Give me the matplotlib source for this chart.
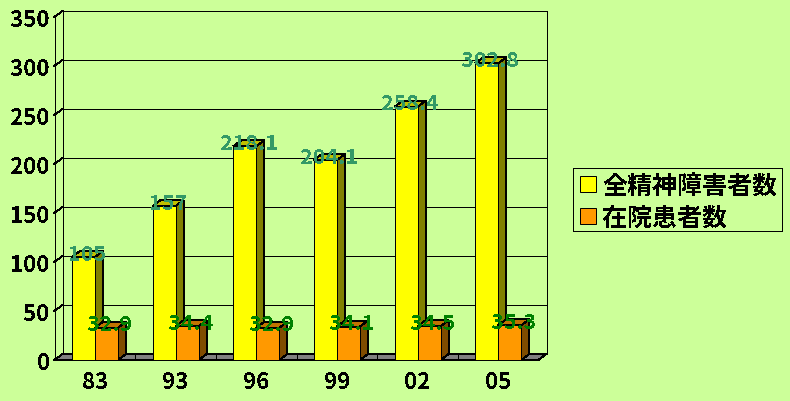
import matplotlib
matplotlib.use("Agg")
import matplotlib.pyplot as plt
from matplotlib.patches import Polygon, Patch, Rectangle

categories = ['83', '93', '96', '99', '02', '05']
all_patients = [105, 157, 218.1, 204.1, 258.4, 302.8]
inpatients = [32.9, 34.4, 32.9, 34.1, 34.5, 35.3]
all_labels = ['105', '157', '218.1', '204.1', '258.4', '302.8']
in_labels = ['32.9', '34.4', '32.9', '34.1', '34.5', '35.3']
series_names = ['全精神障害者数', '在院患者数']
yticks = [0, 50, 100, 150, 200, 250, 300, 350]

BG = '#CCFF99'
FONT = ['Noto Sans CJK JP', 'DejaVu Sans']
W, H = 790, 402
L, R, T, B = 54.5, 538.5, 18, 361
LW = 0.72

fig = plt.figure(figsize=(W/100, H/100), dpi=100, facecolor=BG)
ax = fig.add_axes([L/W, 1-B/H, (R-L)/W, (B-T)/H], facecolor='none')
ax.set_xlim(0, 6)
ax.set_ylim(0, 350)
for s in ax.spines.values():
    s.set_visible(False)

dx = 8/(R-L)*6
dy = 6/(B-T)*350
bw = 23/((R-L)/6)
off = 0.216

def line(xs, ys, z=2):
    ax.plot(xs, ys, color='black', lw=LW, clip_on=False, zorder=z, antialiased=False,
            solid_capstyle='projecting')

def poly(pts, fc, z):
    ax.add_patch(Polygon(pts, closed=True, fc=fc, ec='black', lw=LW, clip_on=False,
                         zorder=z, antialiased=False))

poly([(0, 0), (6, 0), (6+dx, dy), (dx, dy)], '#808080', 1)
for i in range(1, 6):
    line([i, i], [0, dy], 1.5)

for v in yticks:
    line([dx, 6+dx], [v+dy, v+dy], 1.2)
    line([0, dx], [v, v+dy], 1.2)
line([0, 0], [0, 350])
line([dx, dx], [dy, 350+dy])
line([6+dx, 6+dx], [dy, 350+dy])
line([0, 6], [0, 0], 1.6)
line([6, 6+dx], [0, dy], 1.6)

def bar3d(x, v, front, top, side, z):
    poly([(x+bw, 0), (x+bw+dx, dy), (x+bw+dx, v+dy), (x+bw, v)], side, z)
    poly([(x, v), (x+bw, v), (x+bw+dx, v+dy), (x+dx, v+dy)], top, z)
    poly([(x, 0), (x+bw, 0), (x+bw, v), (x, v)], front, z+0.1)

for i in range(len(categories)):
    x1 = i + off
    x2 = x1 + bw
    bar3d(x1, all_patients[i], '#FFFF00', '#C0C000', '#808000', 3+i*0.5)
    bar3d(x2, inpatients[i], '#FF9900', '#C07300', '#804C00', 3.2+i*0.5)

for i in range(len(categories)):
    x1 = i + off
    x2 = x1 + bw
    ax.text(x1+bw/2+dx/2, all_patients[i]+4, all_labels[i], color='#339966', ha='center',
            va='center', family=FONT, fontsize=15.5, fontweight='bold', zorder=10,
            antialiased=False, clip_on=False)
    ax.text(x2+bw/2+dx/2, inpatients[i]+4, in_labels[i], color='#008000', ha='center',
            va='center', family=FONT, fontsize=15.5, fontweight='bold', zorder=11,
            antialiased=False, clip_on=False)

ax.set_yticks(yticks)
ax.set_yticklabels([str(v) for v in yticks], family=FONT, fontsize=16, fontweight='bold')
ax.set_xticks([i+0.5 for i in range(6)])
ax.set_xticklabels(categories, family=FONT, fontsize=16, fontweight='bold')
ax.tick_params(axis='y', length=0, pad=3.5)
ax.tick_params(axis='x', length=0, pad=7)
for t in ax.get_xticklabels()+ax.get_yticklabels():
    t.set_antialiased(False)

fig.add_artist(Rectangle((572.5/W, 1-232/H), 209.5/W, 63.5/H, transform=fig.transFigure,
                         fc=BG, ec='black', lw=LW, antialiased=False))
handles = [Patch(fc='#FFFF00', ec='black', lw=LW, antialiased=False),
           Patch(fc='#FF9900', ec='black', lw=LW, antialiased=False)]
leg = fig.legend(handles, series_names, loc='upper left',
                 bbox_to_anchor=(580/W, 1-175/H), borderaxespad=0, borderpad=0,
                 prop={'family': FONT, 'size': 18, 'weight': 'bold'},
                 frameon=False,
                 handlelength=0.62, handleheight=0.62, handletextpad=0.27,
                 labelspacing=0.32)
for t in leg.get_texts():
    t.set_antialiased(False)

fig.savefig('out.png', dpi=100, facecolor=BG)
